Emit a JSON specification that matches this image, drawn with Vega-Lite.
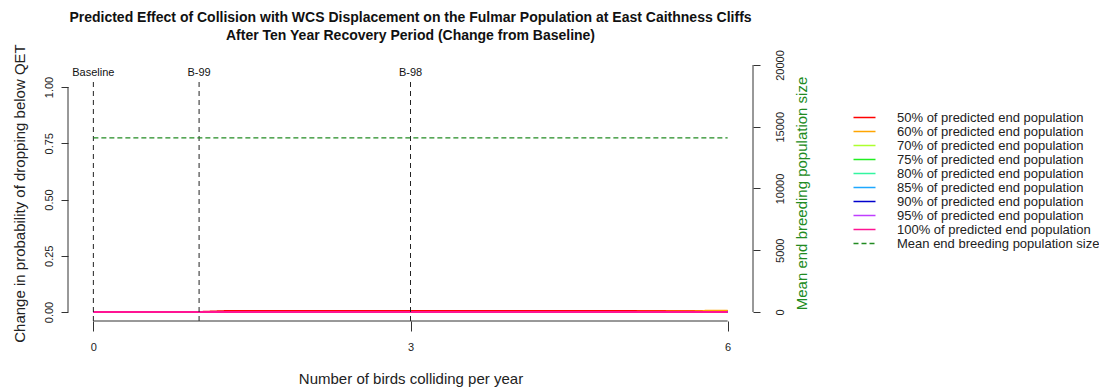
{
  "$schema": "https://vega.github.io/schema/vega-lite/v6.json",
  "width": 685,
  "height": 256,
  "autosize": {"type": "none"},
  "padding": {"left": 68, "top": 65, "right": 346, "bottom": 66},
  "background": "white",
  "config": {
    "view": {"stroke": null},
    "font": "Liberation Sans",
    "axis": {"grid": false, "domain": false, "tickColor": "#333", "labelColor": "#222", "titleColor": "#222", "labelFont": "Liberation Sans", "titleFont": "Liberation Sans", "titleFontWeight": "normal"},
    "legend": {"labelFont": "Liberation Sans"}
  },
  "title": {
    "text": ["Predicted Effect of Collision with WCS Displacement on the Fulmar Population at East Caithness Cliffs", "After Ten Year Recovery Period (Change from Baseline)"],
    "fontSize": 14,
    "fontWeight": "bold",
    "font": "Liberation Sans",
    "lineHeight": 18,
    "anchor": "middle",
    "color": "#111",
    "offset": 6,
    "dy": 5
  },
  "datasets": {
    "lines": [
      {"series": "50% of predicted end population", "x": 0, "y": 0},
      {"series": "50% of predicted end population", "x": 1, "y": 0},
      {"series": "50% of predicted end population", "x": 1.3, "y": 0.005},
      {"series": "50% of predicted end population", "x": 2, "y": 0.005},
      {"series": "50% of predicted end population", "x": 3, "y": 0.005},
      {"series": "50% of predicted end population", "x": 4, "y": 0.005},
      {"series": "50% of predicted end population", "x": 5, "y": 0.005},
      {"series": "50% of predicted end population", "x": 5.8, "y": 0.005},
      {"series": "50% of predicted end population", "x": 6, "y": 0.005},
      {"series": "60% of predicted end population", "x": 0, "y": 0},
      {"series": "60% of predicted end population", "x": 1, "y": 0},
      {"series": "60% of predicted end population", "x": 2, "y": 0},
      {"series": "60% of predicted end population", "x": 3, "y": 0},
      {"series": "60% of predicted end population", "x": 4, "y": 0},
      {"series": "60% of predicted end population", "x": 5, "y": 0},
      {"series": "60% of predicted end population", "x": 5.75, "y": 0.003},
      {"series": "60% of predicted end population", "x": 5.8, "y": 0.006},
      {"series": "60% of predicted end population", "x": 6, "y": 0.006},
      {"series": "70% of predicted end population", "x": 0, "y": 0},
      {"series": "70% of predicted end population", "x": 3, "y": 0},
      {"series": "70% of predicted end population", "x": 6, "y": 0},
      {"series": "75% of predicted end population", "x": 0, "y": 0},
      {"series": "75% of predicted end population", "x": 3, "y": 0},
      {"series": "75% of predicted end population", "x": 6, "y": 0},
      {"series": "80% of predicted end population", "x": 0, "y": 0},
      {"series": "80% of predicted end population", "x": 3, "y": 0},
      {"series": "80% of predicted end population", "x": 6, "y": 0},
      {"series": "85% of predicted end population", "x": 0, "y": 0},
      {"series": "85% of predicted end population", "x": 3, "y": 0},
      {"series": "85% of predicted end population", "x": 6, "y": 0},
      {"series": "90% of predicted end population", "x": 0, "y": 0},
      {"series": "90% of predicted end population", "x": 3, "y": 0},
      {"series": "90% of predicted end population", "x": 6, "y": 0},
      {"series": "95% of predicted end population", "x": 0, "y": 0},
      {"series": "95% of predicted end population", "x": 3, "y": 0},
      {"series": "95% of predicted end population", "x": 6, "y": 0},
      {"series": "100% of predicted end population", "x": 0, "y": 0},
      {"series": "100% of predicted end population", "x": 1, "y": 0},
      {"series": "100% of predicted end population", "x": 2, "y": 0},
      {"series": "100% of predicted end population", "x": 3, "y": 0},
      {"series": "100% of predicted end population", "x": 4, "y": 0},
      {"series": "100% of predicted end population", "x": 5, "y": 0},
      {"series": "100% of predicted end population", "x": 6, "y": 0}
    ],
    "markers": [
      {"label": "Baseline", "x": 0},
      {"label": "B-99", "x": 1},
      {"label": "B-98", "x": 3}
    ],
    "mean": [
      {"series": "Mean end breeding population size", "x": 0, "pop": 14100},
      {"series": "Mean end breeding population size", "x": 6, "pop": 14100}
    ],
    "one": [{"k": 1}]
  },
  "layer": [
    {
      "layer": [
        {
          "data": {"name": "lines"},
          "mark": {"type": "line", "strokeWidth": 2},
          "encoding": {
            "x": {
              "field": "x", "type": "quantitative",
              "scale": {"domain": [-0.24, 6.24], "nice": false, "zero": false},
              "axis": {"values": [0, 3, 6], "format": "d", "tickSize": 10, "labelFontSize": 11, "labelPadding": 10, "title": "Number of birds colliding per year", "titleFontSize": 15, "titleY": 57, "titleBaseline": "middle"}
            },
            "y": {
              "field": "y", "type": "quantitative",
              "scale": {"domain": [-0.04, 1.0978], "nice": false, "zero": false},
              "axis": {"orient": "left", "values": [0, 0.25, 0.5, 0.75, 1], "format": ".2f", "tickSize": 7, "labelAngle": -90, "labelAlign": "center", "labelBaseline": "bottom", "labelFontSize": 11, "labelPadding": 7, "title": "Change in probability of dropping below QET", "titleFontSize": 15, "titleAngle": -90, "titleX": -49, "titleY": 128, "titleAlign": "center", "titleBaseline": "middle"}
            },
            "color": {
              "field": "series", "type": "nominal",
              "scale": {
                "domain": ["50% of predicted end population", "60% of predicted end population", "70% of predicted end population", "75% of predicted end population", "80% of predicted end population", "85% of predicted end population", "90% of predicted end population", "95% of predicted end population", "100% of predicted end population", "Mean end breeding population size"],
                "range": ["#ff0000", "#ffa500", "#adff2f", "#22ee22", "#33f5a0", "#1ea8ff", "#0000cd", "#bf3eff", "#ff1493", "#228b22"]
              },
              "legend": {
                "title": null, "orient": "none", "legendX": 790, "legendY": 46, "padding": 0,
                "symbolType": "M-2.2,0H2.2", "symbolSize": 100, "symbolStrokeWidth": 1.5,
                "labelFontSize": 13, "labelOffset": 26, "labelColor": "#222", "labelLimit": 400, "rowPadding": 0
              }
            },
            "strokeDash": {
              "field": "series", "type": "nominal",
              "scale": {
                "domain": ["50% of predicted end population", "60% of predicted end population", "70% of predicted end population", "75% of predicted end population", "80% of predicted end population", "85% of predicted end population", "90% of predicted end population", "95% of predicted end population", "100% of predicted end population", "Mean end breeding population size"],
                "range": [[1, 0], [1, 0], [1, 0], [1, 0], [1, 0], [1, 0], [1, 0], [1, 0], [1, 0], [5, 3]]
              },
              "legend": {
                "title": null, "orient": "none", "legendX": 790, "legendY": 46, "padding": 0,
                "symbolType": "M-2.2,0H2.2", "symbolSize": 100, "symbolStrokeWidth": 1.5,
                "labelFontSize": 13, "labelOffset": 26, "labelColor": "#222", "labelLimit": 400, "rowPadding": 0
              }
            }
          }
        },
        {
          "data": {"name": "markers"},
          "mark": {"type": "rule", "color": "#222", "strokeDash": [5, 4], "strokeWidth": 1},
          "encoding": {
            "x": {"field": "x", "type": "quantitative"},
            "y": {"datum": -0.04, "type": "quantitative"},
            "y2": {"datum": 1.04}
          }
        },
        {
          "data": {"name": "markers"},
          "mark": {"type": "text", "fontSize": 11, "color": "#111", "baseline": "middle", "align": "center"},
          "encoding": {
            "x": {"field": "x", "type": "quantitative"},
            "y": {"datum": 1.062, "type": "quantitative"},
            "text": {"field": "label"}
          }
        },
        {
          "data": {"name": "one"},
          "mark": {"type": "rule", "color": "#333", "strokeWidth": 1},
          "encoding": {
            "x": {"datum": -0.24, "type": "quantitative"},
            "y": {"datum": 0, "type": "quantitative"},
            "y2": {"datum": 1}
          }
        },
        {
          "data": {"name": "one"},
          "mark": {"type": "rule", "color": "#333", "strokeWidth": 1},
          "encoding": {
            "y": {"datum": -0.04, "type": "quantitative"},
            "x": {"datum": 0, "type": "quantitative"},
            "x2": {"datum": 6}
          }
        }
      ]
    },
    {
      "layer": [
        {
          "data": {"name": "mean"},
          "mark": {"type": "line", "strokeWidth": 1.3},
          "encoding": {
            "x": {"field": "x", "type": "quantitative"},
            "y": {
              "field": "pop", "type": "quantitative",
              "scale": {"domain": [-729, 20000], "nice": false, "zero": false},
              "axis": {"orient": "right", "values": [0, 5000, 10000, 15000, 20000], "format": "d", "tickSize": 7, "labelAngle": -90, "labelAlign": "center", "labelBaseline": "top", "labelFontSize": 11, "labelPadding": 14, "title": "Mean end breeding population size", "titleColor": "#228b22", "titleFontSize": 15, "titleAngle": -90, "titleX": 48, "titleY": 128, "titleAlign": "center", "titleBaseline": "middle"}
            },
            "color": {"field": "series", "type": "nominal"},
            "strokeDash": {"field": "series", "type": "nominal"}
          }
        },
        {
          "data": {"name": "one"},
          "mark": {"type": "rule", "color": "#333", "strokeWidth": 1},
          "encoding": {
            "x": {"datum": 6.24, "type": "quantitative"},
            "y": {"datum": 0, "type": "quantitative"},
            "y2": {"datum": 20000}
          }
        }
      ]
    }
  ],
  "resolve": {"scale": {"y": "independent"}, "axis": {"y": "independent"}}
}
